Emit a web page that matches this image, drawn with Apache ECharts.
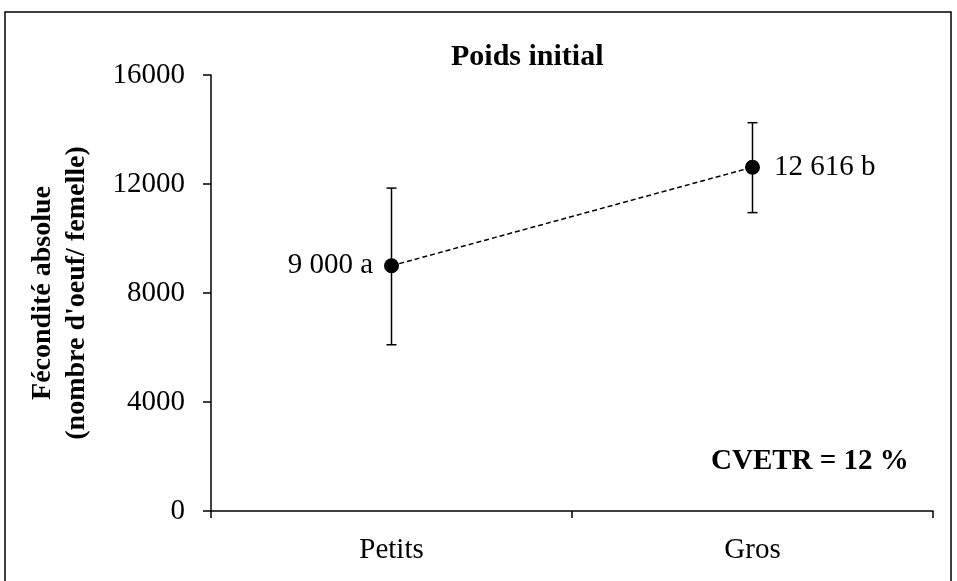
<!DOCTYPE html>
<html><head><meta charset="utf-8">
<script src="https://cdn.jsdelivr.net/npm/echarts@6/dist/echarts.min.js"></script>
<style>html,body{margin:0;padding:0;background:#fff}#c{width:957px;height:581px}</style>
</head><body><div id="c"></div>
<script>
const categories = ['Petits', 'Gros'];
const means = [9000, 12616];
const lowerBars = [6100, 10950];
const upperBars = [11850, 14250];
const pointLabels = ['9 000 a', '12 616 b'];
const yTicks = [0, 4000, 8000, 12000, 16000];

const FONT = '"Liberation Serif", "Times New Roman", serif';
const chart = echarts.init(document.getElementById('c'));
chart.setOption({
  animation: false,
  backgroundColor: '#fff',
  title: {
    text: 'Poids initial', left: 446, top: 37,
    textStyle: { fontFamily: FONT, fontWeight: 'bold', fontSize: 30, color: '#000' }
  },
  graphic: [
    { type: 'rect', shape: { x: 5, y: 12, width: 946, height: 574 },
      style: { fill: 'none', stroke: '#000', lineWidth: 1.5 }, silent: true },
    { type: 'text', left: 711, top: 447,
      style: { text: 'CVETR = 12 %', font: 'bold 29px ' + FONT, fill: '#000' } }
  ],
  grid: { left: 211, right: 24, top: 75, bottom: 70 },
  xAxis: {
    type: 'category', data: categories, boundaryGap: true,
    axisLine: { lineStyle: { color: '#000', width: 1.5 } },
    axisTick: { show: true, length: 7, inside: false, lineStyle: { color: '#000', width: 1.5 } },
    axisLabel: { fontFamily: FONT, fontSize: 29, color: '#000', margin: 25 },
    splitLine: { show: false }
  },
  yAxis: {
    type: 'value', min: yTicks[0], max: yTicks[yTicks.length - 1], interval: 4000,
    name: 'Fécondité absolue\n(nombre d\'oeuf/ femelle)',
    nameLocation: 'middle', nameRotate: 90, nameGap: 117,
    nameTextStyle: { fontFamily: FONT, fontSize: 28, fontWeight: 'bold', color: '#000', lineHeight: 34 },
    axisLine: { show: true, lineStyle: { color: '#000', width: 1.5 } },
    axisTick: { show: true, length: 8, inside: false, lineStyle: { color: '#000', width: 1.5 } },
    axisLabel: { fontFamily: FONT, fontSize: 29, color: '#000', margin: 26,
      formatter: function (v) { return String(v); } },
    splitLine: { show: false }
  },
  series: [
    {
      type: 'custom',
      data: categories.map((c, i) => [i, lowerBars[i], upperBars[i]]),
      renderItem: function (params, api) {
        const x = api.coord([api.value(0), api.value(1)])[0];
        const lo = api.coord([api.value(0), api.value(1)])[1];
        const hi = api.coord([api.value(0), api.value(2)])[1];
        const hw = 5;
        const st = { stroke: '#000', lineWidth: 1.5 };
        return { type: 'group', children: [
          { type: 'line', shape: { x1: x, y1: lo, x2: x, y2: hi }, style: st },
          { type: 'line', shape: { x1: x - hw, y1: lo, x2: x + hw, y2: lo }, style: st },
          { type: 'line', shape: { x1: x - hw, y1: hi, x2: x + hw, y2: hi }, style: st }
        ]};
      },
      z: 2
    },
    {
      type: 'line',
      data: means.map((v, i) => ({
        value: v,
        label: { show: true, position: i === 0 ? 'left' : 'right', distance: i === 0 ? 11 : 14,
          formatter: pointLabels[i] }
      })),
      symbol: 'circle', symbolSize: 15,
      itemStyle: { color: '#000' },
      lineStyle: { color: '#000', width: 1.5, type: [5, 3] },
      label: { fontFamily: FONT, fontSize: 29, color: '#000' },
      z: 3
    }
  ]
});
</script></body></html>
